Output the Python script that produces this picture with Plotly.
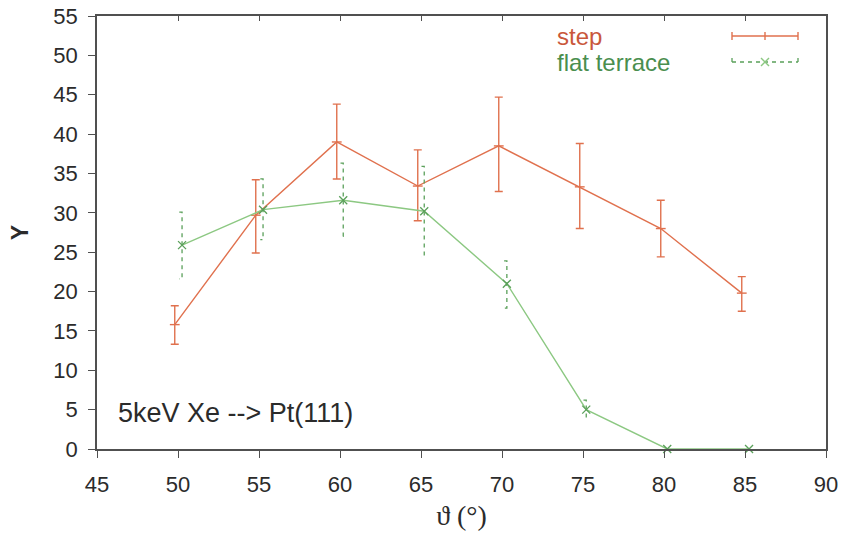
import plotly.graph_objects as go

# ---- data ----
theta_step = [49.8, 54.8, 59.8, 64.8, 69.8, 74.8, 79.8, 84.8]
y_step = [15.8, 29.7, 39.0, 33.4, 38.5, 33.3, 28.0, 19.8]
y_step_hi = [18.2, 34.2, 43.8, 38.0, 44.7, 38.8, 31.6, 21.9]
y_step_lo = [13.3, 24.9, 34.3, 29.0, 32.7, 28.0, 24.4, 17.5]

theta_flat = [50.25, 55.25, 60.2, 65.2, 70.3, 75.2, 80.2, 85.25]
y_flat = [25.9, 30.4, 31.6, 30.2, 21.0, 5.0, 0.0, 0.0]
y_flat_hi = [30.1, 34.3, 36.3, 35.9, 23.9, 6.2, 0.0, 0.0]
y_flat_lo = [21.6, 26.6, 27.0, 24.4, 17.9, 4.0, 0.0, 0.0]

x_ticks = [45, 50, 55, 60, 65, 70, 75, 80, 85, 90]
y_ticks = [0, 5, 10, 15, 20, 25, 30, 35, 40, 45, 50, 55]

RED = "#e0714e"
RED_TXT = "#c9573b"
GREEN = "#8cc882"
GREEN_DK = "#5aa05a"
GREEN_TXT = "#4a8e4e"
AX = "#505050"
TXT = "#2b2b2b"
FONT = "Liberation Sans, Arial, sans-serif"

W, H = 843, 535
L, R, T, B = 97, 826, 16, 449   # plot frame in pixels

fig = go.Figure()

# step: line + solid error bars
fig.add_trace(go.Scatter(
    x=theta_step, y=y_step, mode="lines+markers",
    line=dict(color=RED, width=1.4),
    marker=dict(symbol="line-ew", size=7, line=dict(color=RED, width=1.4)),
    error_y=dict(type="data", symmetric=False,
                 array=[h - v for h, v in zip(y_step_hi, y_step)],
                 arrayminus=[v - l for v, l in zip(y_step, y_step_lo)],
                 color=RED, thickness=1.4, width=4),
    showlegend=False, hoverinfo="skip"))

# flat terrace: dashed error bars with half caps
cap = 0.17
ex, ey = [], []
for x, hi, lo in zip(theta_flat, y_flat_hi, y_flat_lo):
    if hi == lo:
        continue
    ex += [x - cap, x, x, x - cap, None]
    ey += [hi, hi, lo, lo, None]
fig.add_trace(go.Scatter(x=ex, y=ey, mode="lines",
                         line=dict(color=GREEN_DK, width=1.3, dash="4px,4px"),
                         showlegend=False, hoverinfo="skip"))
fig.add_trace(go.Scatter(
    x=theta_flat, y=y_flat, mode="lines+markers",
    line=dict(color=GREEN, width=1.4),
    marker=dict(symbol="x-thin", size=8, line=dict(color=GREEN_DK, width=1.3)),
    showlegend=False, hoverinfo="skip", cliponaxis=False))

# invisible trace for top axis
fig.add_trace(go.Scatter(x=[45, 90], y=[0, 0], xaxis="x2", mode="markers",
                         marker=dict(opacity=0), showlegend=False, hoverinfo="skip"))

fig.update_layout(
    width=W, height=H,
    margin=dict(l=L, r=W - R, t=T, b=H - B, autoexpand=False),
    paper_bgcolor="white", plot_bgcolor="white",
    font=dict(family=FONT, color=TXT, size=22),
    xaxis=dict(range=[45, 90], tickvals=x_ticks, ticks="outside", ticklen=7,
               tickwidth=1.3, tickcolor=AX, showline=True, linecolor=AX, linewidth=1.5,
               mirror=True, showgrid=False, zeroline=False, automargin=False,
               tickfont=dict(size=22, family=FONT, color=TXT),
               ticklabelstandoff=8,
               title=dict(text="ϑ (°)", font=dict(family="Liberation Serif, serif", size=28, color=TXT),
                          standoff=9)),
    xaxis2=dict(range=[45, 90], tickvals=x_ticks, overlaying="x", side="top",
                ticks="inside", ticklen=5, tickwidth=1.2, tickcolor=AX, automargin=False,
                showticklabels=False, showgrid=False, zeroline=False, showline=False),
    yaxis=dict(range=[0, 55], tickvals=y_ticks, ticks="outside", ticklen=7,
               tickwidth=1.3, tickcolor=AX, showline=True, linecolor=AX, linewidth=1.5,
               mirror=True, showgrid=False, zeroline=False, automargin=False,
               tickfont=dict(size=22, family=FONT, color=TXT),
               ticklabelstandoff=6,
               title=dict(text="<b>Y</b>", font=dict(size=23, family=FONT, color=TXT),
                          standoff=18)),
)


def px2x(p):
    return (p - L) / (R - L)


def py2y(p):
    return 1 - (p - T) / (B - T)


# legend (manual, gnuplot style)
legend_items = [
    ("step", RED_TXT, 37),
    ("flat terrace", GREEN_TXT, 62),
]
for txt, col, ypx in legend_items:
    fig.add_annotation(x=px2x(556), y=py2y(ypx),
                       xref="paper", yref="paper", text=txt, showarrow=False,
                       xanchor="left", yanchor="middle", borderpad=0,
                       font=dict(size=24, color=col, family=FONT))

shapes = []
# red legend sample
shapes.append(dict(type="line", xref="paper", yref="paper", x0=px2x(732), x1=px2x(798),
                   y0=py2y(36), y1=py2y(36), line=dict(color=RED, width=1.4)))
for xp in (732, 765, 798):
    shapes.append(dict(type="line", xref="paper", yref="paper", x0=px2x(xp), x1=px2x(xp),
                       y0=py2y(32), y1=py2y(40), line=dict(color=RED, width=1.4)))
# green legend sample
shapes.append(dict(type="line", xref="paper", yref="paper", x0=px2x(732), x1=px2x(798),
                   y0=py2y(62), y1=py2y(62), line=dict(color=GREEN_DK, width=1.3, dash="4px,4px")))
for xp in (732, 798):
    shapes.append(dict(type="line", xref="paper", yref="paper", x0=px2x(xp), x1=px2x(xp),
                       y0=py2y(58), y1=py2y(62), line=dict(color=GREEN_DK, width=1.3)))
for d in (-4, 4):
    shapes.append(dict(type="line", xref="paper", yref="paper", x0=px2x(765 - 4), x1=px2x(765 + 4),
                       y0=py2y(62 - d), y1=py2y(62 + d), line=dict(color=GREEN, width=1.4)))
fig.update_layout(shapes=shapes)

fig.add_annotation(x=px2x(116), y=py2y(413), xref="paper", yref="paper",
                   text="5keV Xe --> Pt(111)", showarrow=False, xanchor="left",
                   yanchor="middle", font=dict(size=27, color=TXT, family=FONT))

fig.write_html("out.html", config={"displayModeBar": False},
               post_script="document.body.style.margin='0';document.body.style.overflow='hidden';")
